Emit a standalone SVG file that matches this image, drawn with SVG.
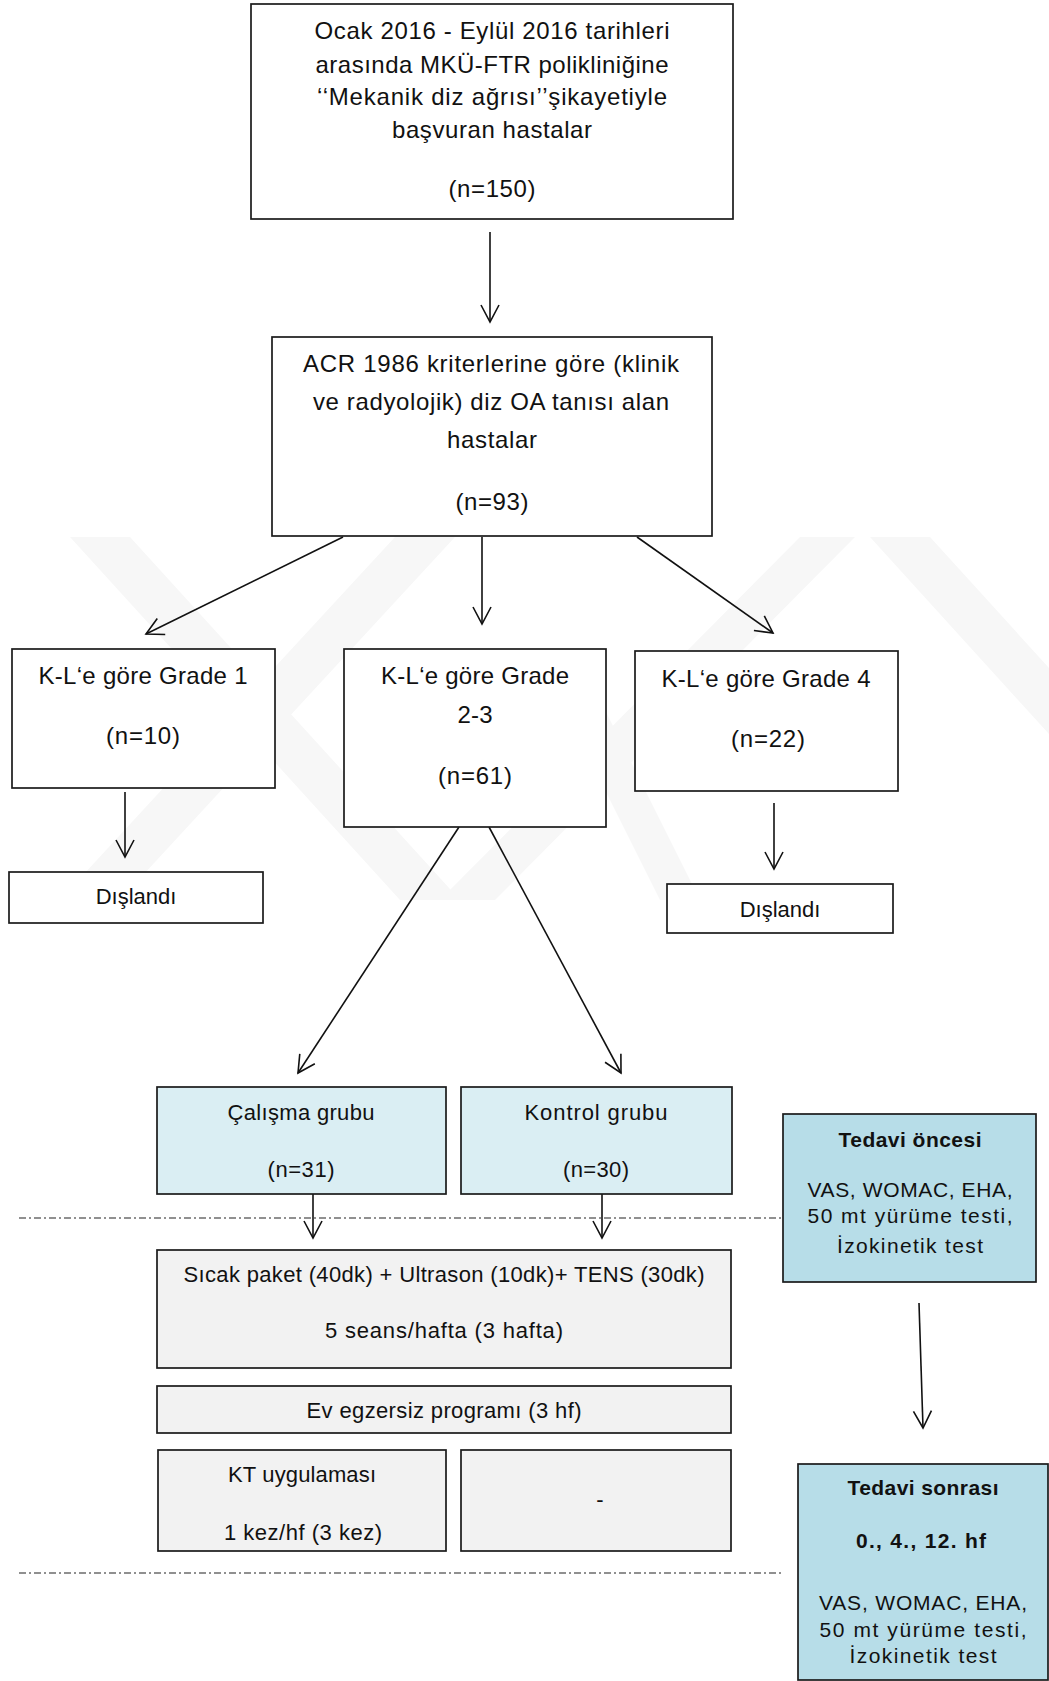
<svg xmlns="http://www.w3.org/2000/svg" width="1049" height="1681" viewBox="0 0 1049 1681">
<defs>
<style>
.box{fill:#ffffff;stroke:#1a1a1a;stroke-width:1.7}
.blue{fill:#daeef3;stroke:#1a1a1a;stroke-width:1.7}
.teal{fill:#b7dde8;stroke:#1a1a1a;stroke-width:1.7}
.gray{fill:#f2f2f2;stroke:#1a1a1a;stroke-width:1.7}
.t{font-family:"Liberation Sans",Arial,sans-serif;fill:#111;text-anchor:middle}
.t24{font-size:24px}
.t22{font-size:22px}
.t21{font-size:21px}
.b{font-weight:bold}
.ln{stroke:#111;stroke-width:1.6;fill:none}
.dd{stroke:#222;stroke-width:1.2;fill:none;stroke-dasharray:7 3 2 3}
.wm{fill:#f7f7f7}
</style>
<marker id="ah" markerUnits="userSpaceOnUse" viewBox="-20 -11 22 22" markerWidth="22" markerHeight="22" refX="0" refY="0" orient="auto">
<path d="M-17,-9 L0,0 L-17,9" fill="none" stroke="#111" stroke-width="1.6"/>
</marker>
</defs>
<rect x="0" y="0" width="1049" height="1681" fill="#ffffff"/>
<g id="watermark">
<polygon class="wm" points="70,537 130,537 460,900 400,900"/>
<polygon class="wm" points="395,537 455,537 120,900 60,900"/>
<polygon class="wm" points="800,537 855,537 495,900 440,900"/>
<polygon class="wm" points="870,537 930,537 1049,668 1049,734"/>
<polygon class="wm" points="560,700 600,700 700,900 660,900"/>
</g>
<g id="connectors">
<line class="ln" x1="490" y1="232" x2="490" y2="322" marker-end="url(#ah)"/>
<line class="ln" x1="482" y1="537" x2="482" y2="624" marker-end="url(#ah)"/>
<line class="ln" x1="343" y1="537" x2="146" y2="634" marker-end="url(#ah)"/>
<line class="ln" x1="637" y1="537" x2="773" y2="633" marker-end="url(#ah)"/>
<line class="ln" x1="125" y1="792" x2="125" y2="857" marker-end="url(#ah)"/>
<line class="ln" x1="774" y1="803" x2="774" y2="869" marker-end="url(#ah)"/>
<line class="ln" x1="459" y1="827" x2="298" y2="1073" marker-end="url(#ah)"/>
<line class="ln" x1="489" y1="827" x2="621" y2="1073" marker-end="url(#ah)"/>
<line class="dd" x1="19" y1="1218" x2="783" y2="1218"/>
<line class="dd" x1="19" y1="1573" x2="783" y2="1573"/>
<line class="ln" x1="313" y1="1194" x2="313" y2="1238" marker-end="url(#ah)"/>
<line class="ln" x1="602" y1="1194" x2="602" y2="1238" marker-end="url(#ah)"/>
<line class="ln" x1="919" y1="1303" x2="923" y2="1428" marker-end="url(#ah)"/>
</g>
<g id="n_top">
<rect class="box" x="251" y="4" width="482" height="215"/>
<text class="t t24" x="492" y="39" textLength="355">Ocak 2016 - Eylül 2016 tarihleri</text>
<text class="t t24" x="492" y="73" textLength="353">arasında MKÜ-FTR polikliniğine</text>
<text class="t t24" x="492" y="105" textLength="350">‘‘Mekanik diz ağrısı’’şikayetiyle</text>
<text class="t t24" x="492" y="138" textLength="200">başvuran hastalar</text>
<text class="t t24" x="492" y="197" textLength="87">(n=150)</text>
</g>
<g id="n_acr">
<rect class="box" x="272" y="337" width="440" height="199"/>
<text class="t t24" x="491" y="372" textLength="376">ACR 1986 kriterlerine göre (klinik</text>
<text class="t t24" x="491" y="410" textLength="356">ve radyolojik) diz OA tanısı alan</text>
<text class="t t24" x="492" y="448" textLength="90">hastalar</text>
<text class="t t24" x="492" y="510" textLength="73">(n=93)</text>
</g>
<g id="n_g1">
<rect class="box" x="12" y="649" width="263" height="139"/>
<text class="t t24" x="143" y="684" textLength="209">K-L‘e göre Grade 1</text>
<text class="t t24" x="143" y="744" textLength="74">(n=10)</text>
</g>
<g id="n_g23">
<rect class="box" x="344" y="649" width="262" height="178"/>
<text class="t t24" x="475" y="684" textLength="188">K-L‘e göre Grade</text>
<text class="t t24" x="475" y="723" textLength="35">2-3</text>
<text class="t t24" x="475" y="784" textLength="74">(n=61)</text>
</g>
<g id="n_g4">
<rect class="box" x="635" y="651" width="263" height="140"/>
<text class="t t24" x="766" y="687" textLength="209">K-L‘e göre Grade 4</text>
<text class="t t24" x="768" y="747" textLength="74">(n=22)</text>
</g>
<g id="n_ex1">
<rect class="box" x="9" y="872" width="254" height="51"/>
<text class="t t22" x="136" y="904">Dışlandı</text>
</g>
<g id="n_ex2">
<rect class="box" x="667" y="884" width="226" height="49"/>
<text class="t t22" x="780" y="917">Dışlandı</text>
</g>
<g id="n_study">
<rect class="blue" x="157" y="1087" width="289" height="107"/>
<text class="t t22" x="301" y="1120" textLength="147">Çalışma grubu</text>
<text class="t t22" x="301" y="1177" textLength="67">(n=31)</text>
</g>
<g id="n_control">
<rect class="blue" x="461" y="1087" width="271" height="107"/>
<text class="t t22" x="596" y="1120" textLength="143">Kontrol grubu</text>
<text class="t t22" x="596" y="1177" textLength="66">(n=30)</text>
</g>
<g id="n_pre">
<rect class="teal" x="783" y="1114" width="253" height="168"/>
<text class="t t21 b" x="910" y="1147" textLength="143">Tedavi öncesi</text>
<text class="t t21" x="910" y="1197" textLength="205">VAS, WOMAC, EHA,</text>
<text class="t t21" x="910" y="1223" textLength="205">50 mt yürüme testi,</text>
<text class="t t21" x="910" y="1253" textLength="146">İzokinetik test</text>
</g>
<g id="n_hot">
<rect class="gray" x="157" y="1250" width="574" height="118"/>
<text class="t t22" x="444" y="1282" textLength="521">Sıcak paket (40dk) + Ultrason (10dk)+ TENS (30dk)</text>
<text class="t t22" x="444" y="1338" textLength="238">5 seans/hafta (3 hafta)</text>
</g>
<g id="n_home">
<rect class="gray" x="157" y="1386" width="574" height="47"/>
<text class="t t22" x="444" y="1418" textLength="275">Ev egzersiz programı (3 hf)</text>
</g>
<g id="n_kt">
<rect class="gray" x="158" y="1450" width="288" height="101"/>
<text class="t t22" x="302" y="1482" textLength="148">KT uygulaması</text>
<text class="t t22" x="303" y="1540" textLength="158">1 kez/hf (3 kez)</text>
</g>
<g id="n_dash">
<rect class="gray" x="461" y="1450" width="270" height="101"/>
<text class="t t22" x="600" y="1507">-</text>
</g>
<g id="n_post">
<rect class="teal" x="798" y="1464" width="250" height="216"/>
<text class="t t21 b" x="923" y="1495" textLength="151">Tedavi sonrası</text>
<text class="t t21 b" x="921" y="1548" textLength="130">0., 4., 12. hf</text>
<text class="t t21" x="923" y="1610" textLength="208">VAS, WOMAC, EHA,</text>
<text class="t t21" x="923" y="1637" textLength="207">50 mt yürüme testi,</text>
<text class="t t21" x="923" y="1663" textLength="147">İzokinetik test</text>
</g>
</svg>
